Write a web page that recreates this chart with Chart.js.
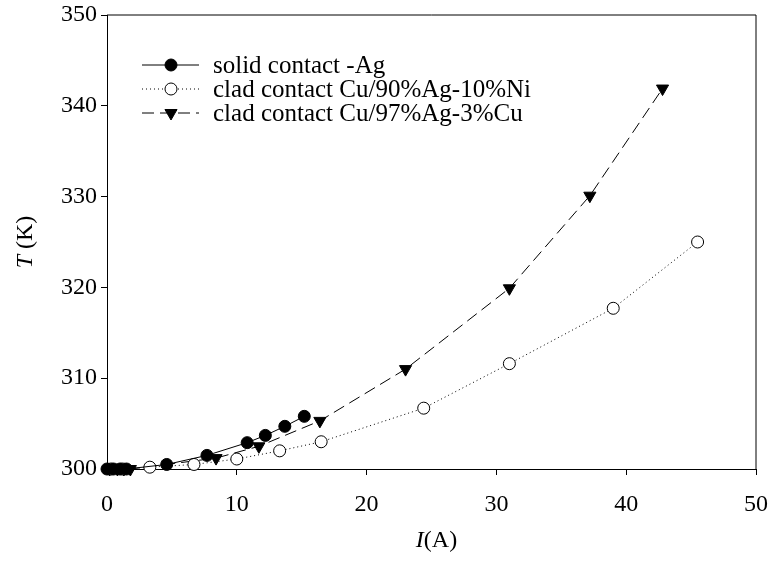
<!DOCTYPE html>
<html>
<head>
<meta charset="utf-8">
<script src="https://cdn.jsdelivr.net/npm/chart.js@4.4.1/dist/chart.umd.min.js"></script>
<style>
  html, body { margin: 0; padding: 0; background: #fff; }
  #wrap { width: 774px; height: 564px; }
</style>
</head>
<body>
<div id="wrap"><canvas id="tempChart" width="774" height="564"></canvas></div>
<script>
// series labels
const seriesNames = ['solid contact -Ag', 'clad contact Cu/90%Ag-10%Ni', 'clad contact Cu/97%Ag-3%Cu'];

// solid Ag contact (filled circles)
const solidI = [0, 0.5, 1.0, 1.5, 4.6, 7.7, 10.8, 12.2, 13.7, 15.2];
const solidT = [300, 300, 300, 300, 300.5, 301.5, 302.9, 303.7, 304.7, 305.8];

// clad Cu/90%Ag-10%Ni (open circles)
const niI = [0.3, 1.2, 3.3, 6.7, 10.0, 13.3, 16.5, 24.4, 31.0, 39.0, 45.5];
const niT = [300, 300, 300.2, 300.5, 301.1, 302.0, 303.0, 306.7, 311.6, 317.7, 325.0];

// clad Cu/97%Ag-3%Cu (down triangles)
const cuI = [0.2, 0.8, 1.3, 1.8, 8.4, 11.7, 16.4, 23.0, 31.0, 37.2, 42.8];
const cuT = [300, 300, 300, 300, 301.2, 302.5, 305.3, 311.0, 319.9, 330.1, 341.9];

// axis ticks
const xTicks = [0, 10, 20, 30, 40, 50];
const yTicks = [300, 310, 320, 330, 340, 350];

const FONT = "'Liberation Serif', 'Times New Roman', serif";
const FS = 24;

const toPoints = (xs, ys) => xs.map((x, i) => ({ x: x, y: ys[i] }));

// frame around plot area + axis titles with italic symbols + legend
const framePlugin = {
    id: 'frame',
    afterDraw(chart) {
        const { ctx, chartArea: a } = chart;
        ctx.save();
        ctx.strokeStyle = '#000';
        ctx.lineWidth = 1;
        ctx.beginPath();
        ctx.moveTo(a.left, a.top);
        ctx.lineTo(a.right, a.top);
        ctx.lineTo(a.right, a.bottom);
        ctx.stroke();

        // x title: I(A)
        ctx.fillStyle = '#000';
        ctx.textBaseline = 'middle';
        const xMid = (a.left + a.right) / 2 + 5;
        ctx.font = 'italic ' + FS + 'px ' + FONT;
        const wI = ctx.measureText('I').width;
        ctx.font = FS + 'px ' + FONT;
        const wA = ctx.measureText('(A)').width;
        let sx = xMid - (wI + wA) / 2;
        ctx.font = 'italic ' + FS + 'px ' + FONT;
        ctx.textAlign = 'left';
        ctx.fillText('I', sx, 541);
        ctx.font = FS + 'px ' + FONT;
        ctx.fillText('(A)', sx + wI, 541);

        // y title: T (K)
        ctx.translate(26, (a.top + a.bottom) / 2);
        ctx.rotate(-Math.PI / 2);
        ctx.font = 'italic ' + FS + 'px ' + FONT;
        const wT = ctx.measureText('T ').width;
        ctx.font = FS + 'px ' + FONT;
        const wK = ctx.measureText('(K)').width;
        sx = -(wT + wK) / 2;
        ctx.font = 'italic ' + FS + 'px ' + FONT;
        ctx.fillText('T ', sx, 0);
        ctx.font = FS + 'px ' + FONT;
        ctx.fillText('(K)', sx + wT, 0);
        ctx.restore();

        // legend
        ctx.save();
        const rows = [65, 89, 113];
        chart.data.datasets.forEach((ds, i) => {
            const y = rows[i];
            ctx.strokeStyle = '#000';
            ctx.lineWidth = 1;
            ctx.setLineDash(ds.borderDash || []);
            ctx.beginPath();
            ctx.moveTo(142, y);
            ctx.lineTo(199, y);
            ctx.stroke();
            ctx.setLineDash([]);
            ctx.fillStyle = ds.pointBackgroundColor;
            ctx.strokeStyle = '#000';
            Chart.helpers.drawPoint(ctx, {
                pointStyle: ds.pointStyle,
                rotation: ds.pointRotation || 0,
                radius: ds.pointRadius,
                borderWidth: 1
            }, 171, y);
            ctx.fillStyle = '#000';
            ctx.font = '25px ' + FONT;
            ctx.textAlign = 'left';
            ctx.textBaseline = 'middle';
            ctx.fillText(ds.label, 213, y + 1);
        });
        ctx.restore();
    }
};

new Chart(document.getElementById('tempChart'), {
    type: 'scatter',
    data: {
        datasets: [
            {
                label: seriesNames[0],
                data: toPoints(solidI, solidT),
                showLine: true,
                borderColor: '#000',
                borderWidth: 1,
                pointStyle: 'circle',
                pointRadius: 6,
                pointBackgroundColor: '#000',
                pointBorderColor: '#000',
                clip: false
            },
            {
                label: seriesNames[1],
                data: toPoints(niI, niT),
                showLine: true,
                borderColor: '#000',
                borderWidth: 1,
                borderDash: [1, 3],
                pointStyle: 'circle',
                pointRadius: 6,
                pointBackgroundColor: '#fff',
                pointBorderColor: '#000',
                clip: false
            },
            {
                label: seriesNames[2],
                data: toPoints(cuI, cuT),
                showLine: true,
                borderColor: '#000',
                borderWidth: 1,
                borderDash: [12, 6],
                pointStyle: 'triangle',
                pointRotation: 180,
                pointRadius: 7,
                pointBackgroundColor: '#000',
                pointBorderColor: '#000',
                clip: false
            }
        ]
    },
    options: {
        responsive: false,
        animation: false,
        layout: { padding: { left: 0, right: 18, top: 15, bottom: 0 } },
        plugins: {
            legend: { display: false },
            tooltip: { enabled: false }
        },
        scales: {
            x: {
                type: 'linear',
                min: xTicks[0],
                max: xTicks[xTicks.length - 1],
                afterBuildTicks: s => { s.ticks = xTicks.map(v => ({ value: v })); },
                afterFit: s => { s.height = 95; s.paddingLeft = 0; s.paddingRight = 0; },
                grid: { drawOnChartArea: false, drawTicks: true, tickLength: 6, color: '#000' },
                border: { display: true, color: '#000', width: 1 },
                ticks: { color: '#000', padding: 15, font: { family: FONT, size: FS } }
            },
            y: {
                type: 'linear',
                min: yTicks[0],
                max: yTicks[yTicks.length - 1],
                afterBuildTicks: s => { s.ticks = yTicks.map(v => ({ value: v })); },
                afterFit: s => { s.width = 107; s.paddingTop = 0; s.paddingBottom = 0; },
                grid: { drawOnChartArea: false, drawTicks: true, tickLength: 6, color: '#000' },
                border: { display: true, color: '#000', width: 1 },
                ticks: { color: '#000', padding: 4, font: { family: FONT, size: FS } }
            }
        }
    },
    plugins: [framePlugin]
});
</script>
</body>
</html>
